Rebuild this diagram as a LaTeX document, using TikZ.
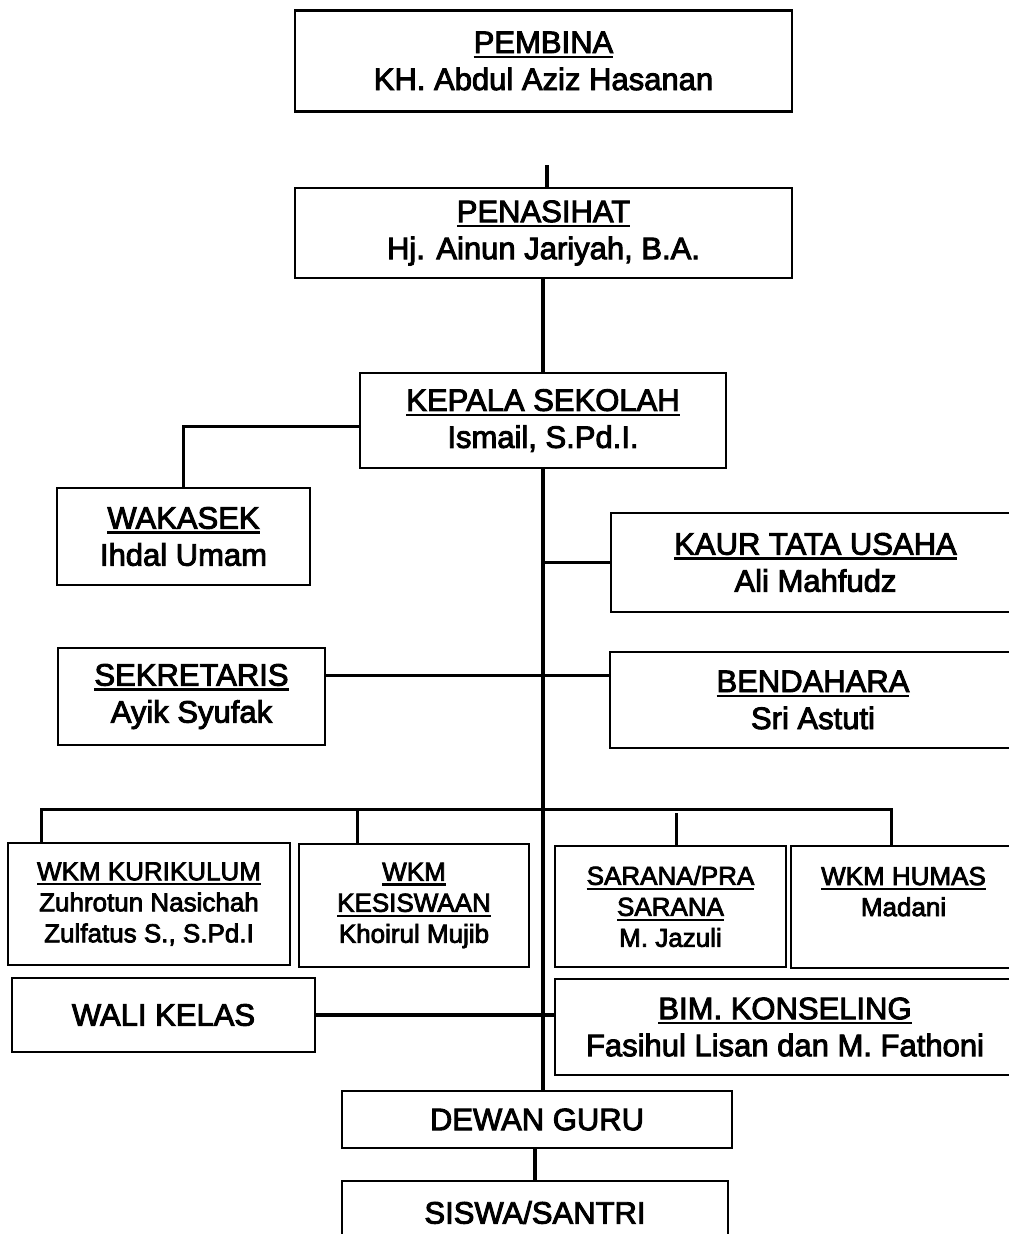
\documentclass[tikz,border=0pt]{standalone}
\usepackage{fontspec}
\setmainfont{Liberation Sans}
\newfontfamily\scanfont{Liberation Sans}[FakeBold=3]
\newcommand\hdr[1]{\vtop{\hbox{#1}\kern2.5pt\hrule height 2.4pt}}
\tikzset{
  unit/.style={draw, line width=2.5pt, inner sep=0pt, align=center,
    font=\scanfont\fontsize{31}{37}\selectfont},
  small unit/.style={unit, font=\scanfont\fontsize{26}{31}\selectfont},
  dims/.style 2 args={minimum width=#1pt, minimum height=#2pt},
  link/.style={line width=3.4pt},
}
\begin{document}
\begin{tikzpicture}[x=1pt, y=-1pt]
\clip (0,0) rectangle (1009,1234);
\fill[white] (0,0) rectangle (1009,1234);

% top of the chart
\node[unit, dims={497}{101}] (pembina) at (543.5,61) {\hdr{PEMBINA}\\KH. Abdul Aziz Hasanan};
\node[unit, dims={497}{90}] (penasihat) at (543.5,233) {\hdr{PENASIHAT}\\Hj. Ainun Jariyah, B.A.};
\node[unit, dims={366}{95}] (kepala) at (543,420.5) {\hdr{KEPALA SEKOLAH}\\Ismail, S.Pd.I.};

% staff
\node[unit, dims={253}{97}] (wakasek) at (183.5,536.5) {\hdr{WAKASEK}\\Ihdal Umam};
\node[unit, dims={409}{99}] (kaur) at (815.5,562.5) {\hdr{KAUR TATA USAHA}\\Ali Mahfudz};
\node[unit, dims={267}{97}] (sekretaris) at (191.5,696.5) {\hdr{SEKRETARIS}\\Ayik Syufak};
\node[unit, dims={406}{96}] (bendahara) at (813,700) {\hdr{BENDAHARA}\\Sri Astuti};

% wakil kepala
\node[small unit, dims={282}{122}] (kurikulum) at (149,904) {\hdr{WKM KURIKULUM}\\Zuhrotun Nasichah\\Zulfatus S., S.Pd.I};
\node[small unit, dims={230}{123}] (kesiswaan) at (414,905.5) {\hdr{WKM}\\\hdr{KESISWAAN}\\Khoirul Mujib};
\node[small unit, dims={231}{121}] (sarana) at (670.5,906.5) {\hdr{SARANA/PRA}\\\hdr{SARANA}\\M. Jazuli};
\node[small unit, dims={225}{122}] (humas) at (903.5,907) {\hdr{WKM HUMAS}\\Madani\\~};

\node[unit, dims={303}{74}] (walikelas) at (163.5,1015) {WALI KELAS};
\node[unit, dims={460}{96}] (bim) at (785,1027) {\hdr{BIM. KONSELING}\\Fasihul Lisan dan M. Fathoni};

% bottom
\node[unit, dims={390}{57}] (dewan) at (537,1119.5) {DEWAN GURU};
\node[unit, dims={386}{63}] (siswa) at (535,1212.5) {SISWA/SANTRI};

% lines
\coordinate (tick) at (547,165);
\draw[link] (tick) -- (tick |- penasihat.north);
\draw[link] (penasihat.south -| kepala.north) -- (kepala.north);
\draw[link] ([yshift=-6pt]kepala.west) -| (wakasek.north);
\draw[link] (kepala.south) -- (kepala.south |- dewan.north);
\draw[link] (kaur.west) -- (kaur.west -| kepala.south);
\draw[link] ([yshift=21pt]sekretaris.east) -- ([yshift=21pt]sekretaris.east -| bendahara.west);
\draw[link] ([xshift=35pt]kurikulum.north west) -- ++(0,-32) -| ([xshift=102pt]humas.north west);
\draw[link] ([xshift=60pt]kesiswaan.north west) -- ++(0,-32);
\draw[link] ([xshift=123pt]sarana.north west) -- ++(0,-32);
\draw[link] (walikelas.east) -- (walikelas.east -| bim.west);
\draw[link] (dewan.south -| siswa.north) -- (siswa.north);
\end{tikzpicture}
\end{document}
